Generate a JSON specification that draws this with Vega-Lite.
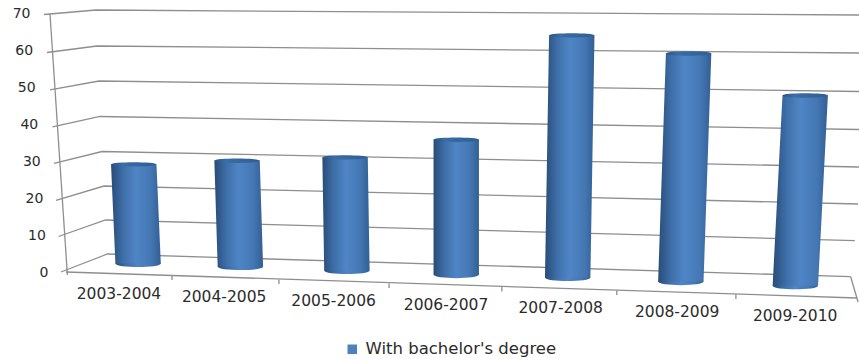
{
  "$schema": "https://vega.github.io/schema/vega-lite/v6.json",
  "width": 859,
  "height": 359,
  "padding": 0,
  "autosize": "none",
  "background": "white",
  "config": {"view": {"stroke": null}},
  "datasets": {
    "graduates": [
      {"period": "2003-2004", "order": 1, "value": 29.2, "floor": 2.3, "series": "With bachelor's degree"},
      {"period": "2004-2005", "order": 2, "value": 30.2, "floor": 1.5, "series": "With bachelor's degree"},
      {"period": "2005-2006", "order": 3, "value": 31.1, "floor": 0.4, "series": "With bachelor's degree"},
      {"period": "2006-2007", "order": 4, "value": 35.9, "floor": -0.7, "series": "With bachelor's degree"},
      {"period": "2007-2008", "order": 5, "value": 64.2, "floor": -1.5, "series": "With bachelor's degree"},
      {"period": "2008-2009", "order": 6, "value": 59.3, "floor": -2.6, "series": "With bachelor's degree"},
      {"period": "2009-2010", "order": 7, "value": 47.9, "floor": -3.7, "series": "With bachelor's degree"}
    ],
    "frame": [
      {"line": "g70", "pos": -0.041, "level": 69.86},
      {"line": "g70", "pos": 0.5614, "level": 71.08},
      {"line": "g70", "pos": 7.543, "level": 69.72},
      {"line": "g60", "pos": 0.0018, "level": 59.55},
      {"line": "g60", "pos": 0.5719, "level": 61.31},
      {"line": "g60", "pos": 7.543, "level": 59.41},
      {"line": "g50", "pos": 0.0435, "level": 49.38},
      {"line": "g50", "pos": 0.5931, "level": 51.82},
      {"line": "g50", "pos": 7.543, "level": 48.97},
      {"line": "g40", "pos": 0.0752, "level": 39.34},
      {"line": "g40", "pos": 0.6036, "level": 42.19},
      {"line": "g40", "pos": 7.543, "level": 38.66},
      {"line": "g30", "pos": 0.0937, "level": 29.44},
      {"line": "g30", "pos": 0.6246, "level": 32.69},
      {"line": "g30", "pos": 7.543, "level": 28.49},
      {"line": "g20", "pos": 0.1179, "level": 19.4},
      {"line": "g20", "pos": 0.6456, "level": 23.33},
      {"line": "g20", "pos": 7.535, "level": 18.45},
      {"line": "g10", "pos": 0.1476, "level": 9.63},
      {"line": "g10", "pos": 0.6613, "level": 14.11},
      {"line": "g10", "pos": 7.507, "level": 8.49},
      {"line": "g0", "pos": 0.1767, "level": 0},
      {"line": "g0", "pos": 0.6821, "level": 4.88},
      {"line": "g0", "pos": 7.471, "level": -1.28},
      {"line": "wall", "pos": 0.0435, "level": 70},
      {"line": "wall", "pos": 0.25, "level": -0.8},
      {"line": "front", "pos": 0.2342, "level": 0},
      {"line": "front", "pos": 7.526, "level": -7.05},
      {"line": "side", "pos": 7.471, "level": -1.28},
      {"line": "side", "pos": 7.535, "level": -8.14},
      {"line": "t1", "pos": 1.335, "level": -1.09},
      {"line": "t1", "pos": 1.335, "level": -2.17},
      {"line": "t2", "pos": 2.365, "level": -2.03},
      {"line": "t2", "pos": 2.365, "level": -3.26},
      {"line": "t3", "pos": 3.388, "level": -3.12},
      {"line": "t3", "pos": 3.388, "level": -4.34},
      {"line": "t4", "pos": 4.411, "level": -4.07},
      {"line": "t4", "pos": 4.411, "level": -5.29},
      {"line": "t5", "pos": 5.434, "level": -5.02},
      {"line": "t5", "pos": 5.434, "level": -6.24},
      {"line": "t6", "pos": 6.478, "level": -6.1},
      {"line": "t6", "pos": 6.478, "level": -7.33}
    ]
  },
  "encoding": {
    "x": {
      "field": "pos",
      "type": "quantitative",
      "scale": {"type": "pow", "exponent": 1.08, "domain": [-0.538, 7.543], "nice": false, "zero": false},
      "axis": {
        "title": null,
        "orient": "bottom",
        "values": [1, 2, 3, 4, 5, 6, 7],
        "labelExpr": "(2002 + datum.value) + '-' + (2003 + datum.value)",
        "grid": false,
        "domain": false,
        "ticks": false,
        "tickSize": 0,
        "labelPadding": {"expr": "-66 + 3.67 * (datum.value - 1)"},
        "labelOffset": {"expr": "-20 + 3.1 * (datum.value - 1)"},
        "labelFont": "DejaVu Sans",
        "labelFontSize": 15.5,
        "labelColor": "#2b2b2b",
        "labelBaseline": "middle",
        "labelAlign": "center",
        "labelOverlap": false,
        "labelFlush": false,
        "labelBound": false
      }
    },
    "y": {
      "field": "level",
      "type": "quantitative",
      "scale": {"domain": [-23.6, 73.79], "nice": false, "zero": false},
      "axis": {
        "title": null,
        "orient": "left",
        "values": [0, 10, 20, 30, 40, 50, 60, 70],
        "grid": false,
        "domain": false,
        "ticks": false,
        "tickSize": 0,
        "labelPadding": {"expr": "-30 - (70 - datum.value) * 0.257"},
        "labelFont": "DejaVu Sans",
        "labelFontSize": 14,
        "labelColor": "#2b2b2b",
        "labelAlign": "right",
        "labelBaseline": "middle",
        "labelOverlap": false,
        "labelFlush": false,
        "labelBound": false
      }
    }
  },
  "layer": [
    {
      "data": {"name": "frame"},
      "mark": {"type": "line", "stroke": "#8e8e8e", "strokeWidth": 1.3, "clip": false},
      "encoding": {"detail": {"field": "line"}}
    },
    {
      "data": {"name": "graduates"},
      "transform": [
        {"calculate": "datum.order", "as": "pos"},
        {"calculate": "(datum.value + datum.floor) / 2", "as": "level"}
      ],
      "mark": {"type": "point", "filled": true, "shape": "square", "size": 30, "opacity": 1},
      "encoding": {
        "color": {
          "field": "series",
          "type": "nominal",
          "scale": {"range": ["#4f81bd"]},
          "legend": {
            "title": null,
            "orient": "none",
            "legendX": 344,
            "legendY": 341,
            "symbolType": "square",
            "symbolSize": 90,
            "labelFont": "DejaVu Sans",
            "labelFontSize": 16.5,
            "labelColor": "#2b2b2b",
            "labelOffset": 5,
            "labelLimit": 300
          }
        }
      }
    },
    {
      "data": {"name": "graduates"},
      "transform": [
        {"calculate": "datum.floor", "as": "level"},
        {"calculate": "datum.order + 0.00055 * (datum.order - 4) * datum.level", "as": "pos"}
      ],
      "mark": {
        "type": "point",
        "filled": true,
        "opacity": 1,
        "size": 2070,
        "shape": "M-1,0C-1,0.21 1,0.21 1,0C1,-0.21 -1,-0.21 -1,0Z",
        "fill": {
          "gradient": "linear", "x1": 0, "y1": 0, "x2": 1, "y2": 0,
          "stops": [
            {"offset": 0, "color": "#284c78"},
            {"offset": 0.25, "color": "#3f6fa9"},
            {"offset": 0.5, "color": "#4f85c6"},
            {"offset": 0.8, "color": "#4477b3"},
            {"offset": 1, "color": "#325f94"}
          ]
        }
      }
    },
    {
      "data": {"name": "graduates"},
      "transform": [
        {"fold": ["value", "floor"], "as": ["end", "level"]},
        {"calculate": "datum.order + 0.00055 * (datum.order - 4) * datum.level", "as": "pos"}
      ],
      "mark": {
        "type": "area",
        "orient": "horizontal",
        "opacity": 1,
        "xOffset": -22.7,
        "x2Offset": 22.7,
        "fill": {
          "gradient": "linear", "x1": 0, "y1": 0, "x2": 1, "y2": 0,
          "stops": [
            {"offset": 0, "color": "#284c78"},
            {"offset": 0.25, "color": "#3f6fa9"},
            {"offset": 0.5, "color": "#4f85c6"},
            {"offset": 0.8, "color": "#4477b3"},
            {"offset": 1, "color": "#325f94"}
          ]
        }
      },
      "encoding": {
        "x2": {"field": "pos"},
        "detail": {"field": "period"}
      }
    },
    {
      "data": {"name": "graduates"},
      "transform": [
        {"calculate": "datum.value", "as": "level"},
        {"calculate": "datum.order + 0.00055 * (datum.order - 4) * datum.level", "as": "pos"}
      ],
      "mark": {
        "type": "point",
        "filled": true,
        "opacity": 1,
        "size": 2070,
        "shape": "M-1,0C-1,0.13 1,0.13 1,0C1,-0.13 -1,-0.13 -1,0Z",
        "fill": {
          "gradient": "linear", "x1": 0, "y1": 0, "x2": 1, "y2": 0,
          "stops": [
            {"offset": 0, "color": "#2a5283"},
            {"offset": 0.25, "color": "#3a6ca6"},
            {"offset": 1, "color": "#2f5e94"}
          ]
        }
      }
    }
  ]
}
